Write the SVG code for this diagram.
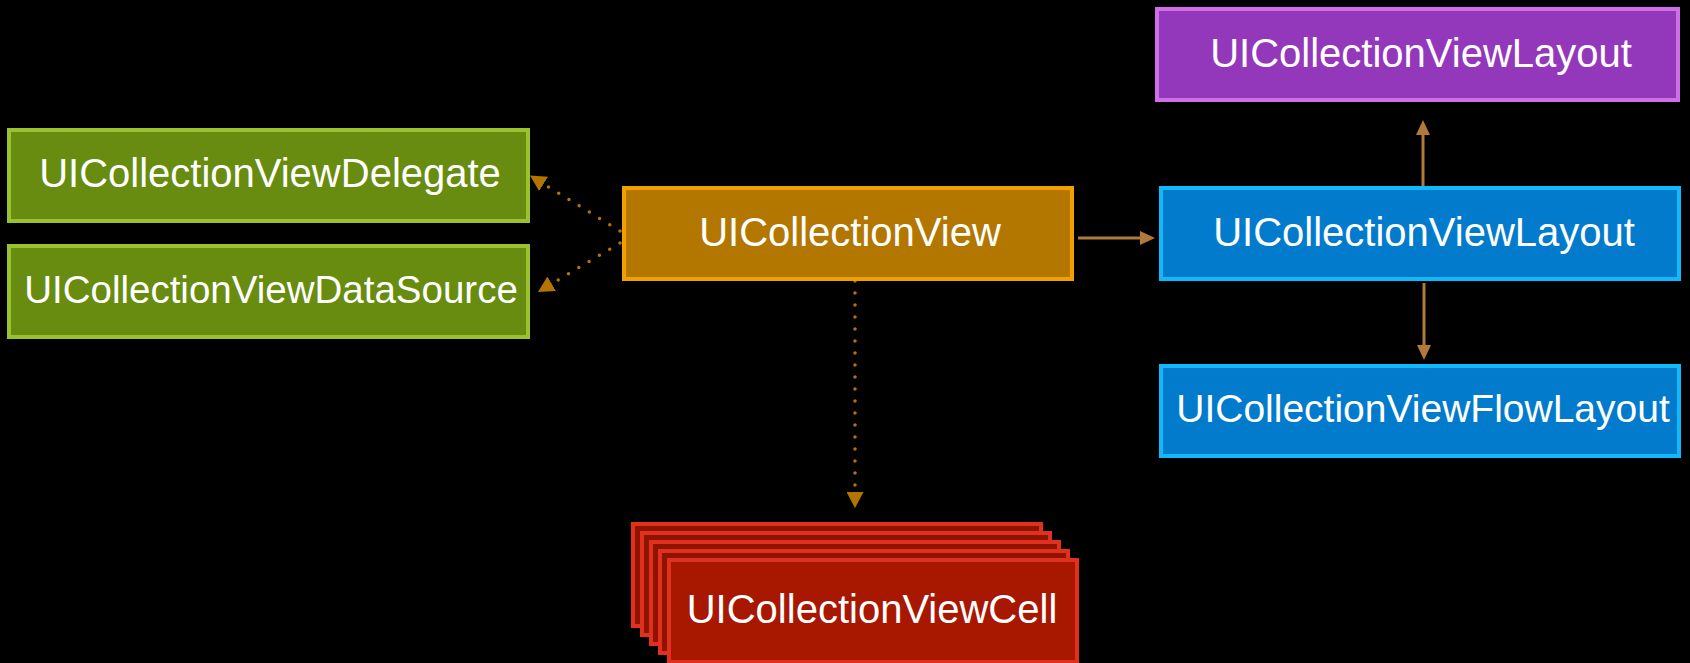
<svg xmlns="http://www.w3.org/2000/svg" width="1690" height="663" viewBox="0 0 1690 663">
<style>
text{font-family:"Liberation Sans",Arial,sans-serif;font-size:40px;fill:#ffffff;text-anchor:middle}
.box{stroke-width:4}
.green{fill:#678c0f;stroke:#9ac22e}
.orange{fill:#b37700;stroke:#f0a100}
.purple{fill:#9338bb;stroke:#cf6ee8}
.blue{fill:#027bcd;stroke:#12b9fa}
.cellback{fill:#8e1400;stroke:#e2301f}
.cell{fill:#a81700;stroke:#e2301f}
.dot{fill:none;stroke:#b37400;stroke-width:3.5;stroke-linecap:round;stroke-dasharray:0 12}
.solid{fill:none;stroke:#b07a3a;stroke-width:3}
</style>
<defs>
<marker id="dotHead" markerUnits="userSpaceOnUse" markerWidth="17" markerHeight="17" refX="0" refY="8.5" orient="auto">
<path d="M0,0 L16,8.5 L0,17 z" fill="#b37400"/>
</marker>
<marker id="solidHead" markerUnits="userSpaceOnUse" markerWidth="15" markerHeight="14" refX="0" refY="7" orient="auto">
<path d="M0,0 L15,7 L0,14 z" fill="#b07a3a"/>
</marker>
</defs>
<rect width="1690" height="663" fill="#000000"/>
<g id="connectors">
<path class="dot" d="M620,231 L543.6,183.9" marker-end="url(#dotHead)"/>
<path class="dot" d="M620,243 L551.7,283.8" marker-end="url(#dotHead)"/>
<path class="dot" d="M855,281 L855,492" marker-end="url(#dotHead)"/>
<path class="solid" d="M1078,238 L1140,238" marker-end="url(#solidHead)"/>
<path class="solid" d="M1423,186 L1423,135" marker-end="url(#solidHead)"/>
<path class="solid" d="M1424,283 L1424,345" marker-end="url(#solidHead)"/>
</g>
<g id="delegate">
<rect class="box green" x="9" y="130" width="519" height="91"/>
<text x="270" y="187">UICollectionViewDelegate</text>
</g>
<g id="datasource">
<rect class="box green" x="9" y="246" width="519" height="91"/>
<text x="271" y="303" style="font-size:38.5px">UICollectionViewDataSource</text>
</g>
<g id="collectionview">
<rect class="box orange" x="624" y="188" width="448" height="91"/>
<text x="850" y="246">UICollectionView</text>
</g>
<g id="layout-top">
<rect class="box purple" x="1157" y="9" width="521" height="91"/>
<text x="1421" y="67">UICollectionViewLayout</text>
</g>
<g id="layout">
<rect class="box blue" x="1161" y="188" width="518" height="91"/>
<text x="1424" y="246">UICollectionViewLayout</text>
</g>
<g id="flowlayout">
<rect class="box blue" x="1161" y="366" width="518" height="90"/>
<text x="1423" y="422" style="font-size:39px">UICollectionViewFlowLayout</text>
</g>
<g id="cells">
<rect class="box cellback" x="633" y="524" width="408" height="102"/>
<rect class="box cellback" x="642" y="533" width="408" height="102"/>
<rect class="box cellback" x="651" y="542" width="408" height="102"/>
<rect class="box cellback" x="660" y="551" width="408" height="102"/>
<rect class="box cell" x="669" y="560" width="408" height="102"/>
<text x="872" y="623">UICollectionViewCell</text>
</g>
</svg>
